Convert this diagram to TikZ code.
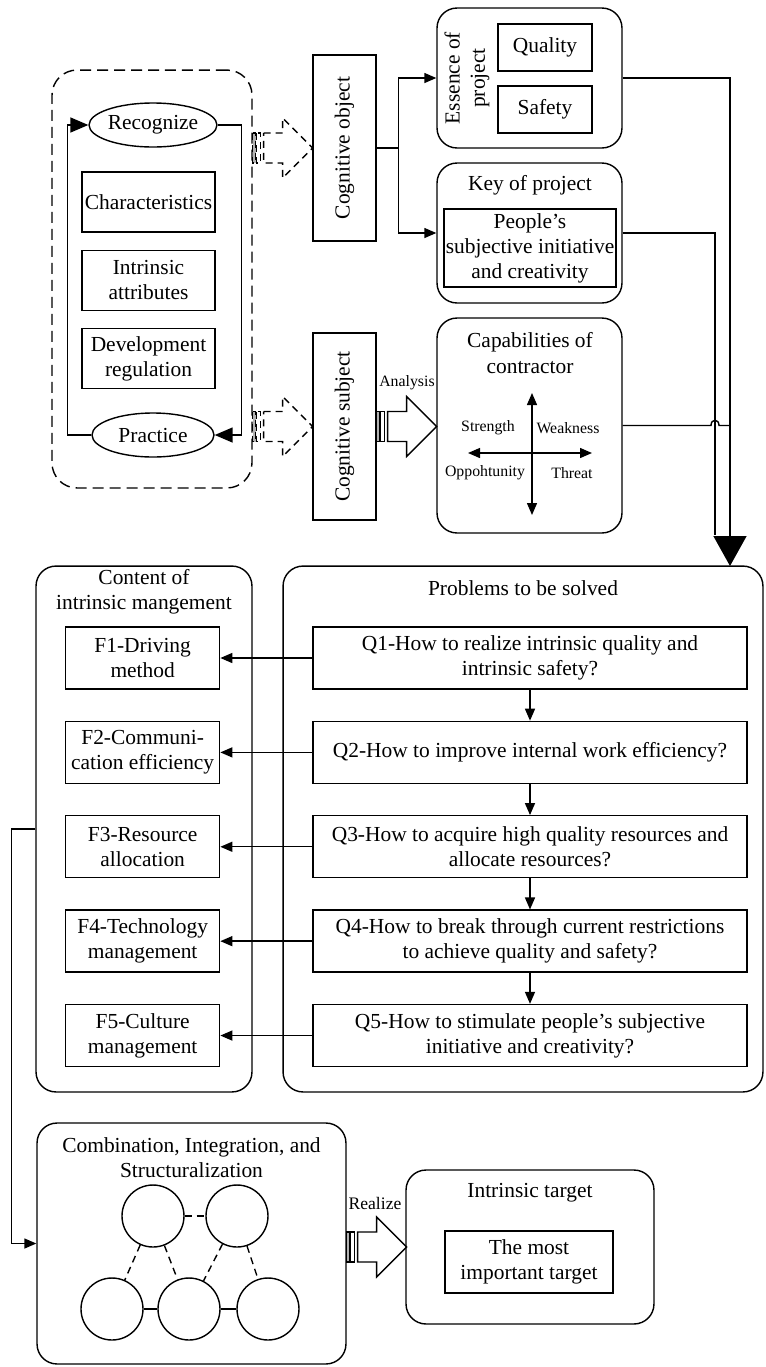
\documentclass[tikz,border=0pt]{standalone}
\usepackage{fontspec}
\setmainfont{Liberation Serif}
\usetikzlibrary{arrows.meta}
\usetikzlibrary{shapes.geometric}
\usetikzlibrary{positioning}
\tikzset{box/.style = {draw, align=center, inner sep=0pt}}
\tikzset{group/.style = {draw, rounded corners=0.4cm, inner sep=0pt}}
\tikzset{oval/.style = {draw, ellipse, inner sep=0pt, minimum width=2.44cm, minimum height=0.88cm}}
\tikzset{ring/.style = {draw, circle, inner sep=0pt, minimum size=1.24cm}}
\tikzset{tag/.style = {font=\fontsize{9}{10}\selectfont, inner sep=0pt}}
\tikzset{looptip/.style = {-{Triangle[length=0.36cm, width=0.3cm]}}}
\tikzset{bigtip/.style = {-{Triangle[length=0.6cm, width=0.66cm]}}}
\tikzset{dashy/.style = {dash pattern=on 0.22cm off 0.12cm}}
\tikzset{dashlet/.style = {dash pattern=on 0.14cm off 0.1cm}}
\tikzset{stripe arrow/.pic = {
  \draw [fill=gray!60] (0,-15) rectangle (3,15);
  \draw (4,-15) rectangle (8,15);
  \draw (11,-15) -- (30,-15) -- (30,-30) -- (60,0) -- (30,30) -- (30,15) -- (11,15) -- cycle;
}}

\begin{document}
\begin{tikzpicture}[x=0.02cm, y=-0.02cm, line width=0.8pt,
                    font=\fontsize{12.2}{14.3}\selectfont,
                    >={Triangle[length=0.24cm, width=0.2cm]}]
  \useasboundingbox (0,0) rectangle (765,1367);

  % recognize / practice loop
  \node [group, dashy, rounded corners=0.5cm, minimum width=4cm, minimum height=8.36cm] (loopbox) at (152,279) {};
  \node [oval] (recog) at (153,125) {Recognize};
  \node [oval] (practice) at (153,435) {Practice};
  \node [box, minimum width=2.66cm, minimum height=1.2cm] (char) at (148.5,202) {Characteristics};
  \node [box, minimum width=2.66cm, minimum height=1.2cm, below=0.34cm of char] (intr) {Intrinsic\\attributes};
  \node [box, minimum width=2.66cm, minimum height=1.2cm, below=0.34cm of intr] (devel) {Development\\regulation};
  \draw [looptip] (practice.west) -- ++(-24,0) |- (recog.west);
  \draw [looptip] (recog.east) -- ++(24,0) |- (practice.east);

  \node [box, minimum width=1.26cm, minimum height=3.72cm, label={[rotate=90]center:Cognitive object}] (cogobj) at (344.5,148) {};
  \node [box, minimum width=1.26cm, minimum height=3.74cm, label={[rotate=90]center:Cognitive subject}] (cogsub) at (344.5,426.5) {};
  \pic [dashlet] at (loopbox.east |- cogobj.west) {stripe arrow};
  \pic [dashlet] at (loopbox.east |- cogsub.west) {stripe arrow};

  % project side
  \node [group, minimum width=3.7cm, minimum height=2.8cm] (essence) at (529.5,78) {};
  \node [rotate=90, align=center, inner sep=0pt] (essencetitle) at (467,78) {Essence of\\project};
  \node [box, minimum width=1.88cm, minimum height=0.94cm] (quality) at (545,47.5) {Quality};
  \node [box, minimum width=1.88cm, minimum height=0.94cm] (safety) at (545,109.5) {Safety};

  \node [group, minimum width=3.7cm, minimum height=2.8cm] (key) at (529.5,233) {};
  \node [inner sep=0pt] (keytitle) at (530,185) {Key of project};
  \node [box, minimum width=3.44cm, minimum height=1.56cm] (people) at (530,248) {People’s\\subjective initiative\\and creativity};

  \node [group, minimum width=3.7cm, minimum height=4.3cm] (cap) at (529.5,425.5) {};
  \node [align=center, inner sep=0pt] (captitle) at (530,353) {Capabilities of\\contractor};
  \draw [<->] (532,393) -- (532,515);
  \draw [<->] (468,453) -- (592,453);
  \node [tag] (strength) at (488,428) {Strength};
  \node [tag] (weakness) at (568,428) {Weakness};
  \node [tag] (opport) at (485,473) {Oppohtunity};
  \node [tag] (threat) at (572,473) {Threat};

  \pic at (cogsub.east) {stripe arrow};
  \node [tag] (analysis) at (407,383) {Analysis};

  \draw [->] (cogobj.east) -- ++(22,0) |- (essence.west);
  \draw [->] (cogobj.east) -- ++(22,0) |- (key.west);

  % feed into the problems
  \coordinate (drop) at (730,566);
  \coordinate (keyend) at (715,535);
  \draw [bigtip] (essence.east) -| (drop);
  \draw (key.east) -| (keyend);
  \draw (cap.east) -- (711,425.5) .. controls (711,418.5) and (719,418.5) .. (719,425.5) -- (730,425.5);

  \node [group, minimum width=9.6cm, minimum height=10.52cm] (probs) at (523,829) {};
  \node [inner sep=0pt] (probstitle) at (523,588) {Problems to be solved};
  \node [group, minimum width=4.32cm, minimum height=10.52cm] (content) at (144,829) {};
  \node [align=center, inner sep=0pt] (contenttitle) at (144,592) {Content of\\intrinsic mangement};

  \node [box, minimum width=8.68cm, minimum height=1.24cm] (q1) at (530,658) {Q1-How to realize intrinsic quality and\\intrinsic safety?};
  \node [box, minimum width=8.68cm, minimum height=1.24cm, below=0.62cm of q1] (q2) {Q2-How to improve internal work efficiency?};
  \node [box, minimum width=8.68cm, minimum height=1.24cm, below=0.62cm of q2] (q3) {Q3-How to acquire high quality resources and\\allocate resources?};
  \node [box, minimum width=8.68cm, minimum height=1.24cm, below=0.62cm of q3] (q4) {Q4-How to break through current restrictions\\to achieve quality and safety?};
  \node [box, minimum width=8.68cm, minimum height=1.24cm, below=0.62cm of q4] (q5) {Q5-How to stimulate people’s subjective\\initiative and creativity?};

  \node [box, minimum width=3.08cm, minimum height=1.24cm, left=1.84cm of q1] (f1) {F1-Driving\\method};
  \node [box, minimum width=3.08cm, minimum height=1.24cm, left=1.84cm of q2] (f2) {F2-Communi-\\cation efficiency};
  \node [box, minimum width=3.08cm, minimum height=1.24cm, left=1.84cm of q3] (f3) {F3-Resource\\allocation};
  \node [box, minimum width=3.08cm, minimum height=1.24cm, left=1.84cm of q4] (f4) {F4-Technology\\management};
  \node [box, minimum width=3.08cm, minimum height=1.24cm, left=1.84cm of q5] (f5) {F5-Culture\\management};

  \foreach \i in {1,...,5}
    \draw [->] (q\i.west) -- (f\i.east);
  \foreach \i/\j in {1/2,2/3,3/4,4/5}
    \draw [->] (q\i.south) -- (q\j.north);

  % integration and target
  \node [group, minimum width=6.18cm, minimum height=4.82cm] (comb) at (191.5,1243.5) {};
  \node [align=center, inner sep=0pt] (combtitle) at (191.5,1158) {Combination, Integration, and\\Structuralization};
  \node [ring] (n1) at (153,1216) {};
  \node [ring] (n2) at (237,1216) {};
  \node [ring] (n3) at (112,1309) {};
  \node [ring] (n4) at (189,1309) {};
  \node [ring] (n5) at (268,1309) {};
  \draw [dashlet] (n1) -- (n2);
  \draw (n3) -- (n4);
  \draw (n4) -- (n5);
  \draw [dashlet] (n1) -- (n3);
  \draw [dashlet] (n1) -- (n4);
  \draw [dashlet] (n2) -- (n4);
  \draw [dashlet] (n2) -- (n5);

  \draw [->] (content.west) -- ++(-24,0) |- (comb.west);

  \node [group, minimum width=4.96cm, minimum height=3.08cm] (target) at (530,1247) {};
  \node [inner sep=0pt] (targettitle) at (530,1193) {Intrinsic target};
  \node [box, minimum width=3.36cm, minimum height=1.24cm] (mostimp) at (529,1262) {The most\\important target};

  \pic at (comb.east |- target.west) {stripe arrow};
  \node [tag, font=\fontsize{10}{11}\selectfont] (realize) at (375,1203) {Realize};
\end{tikzpicture}
\end{document}
